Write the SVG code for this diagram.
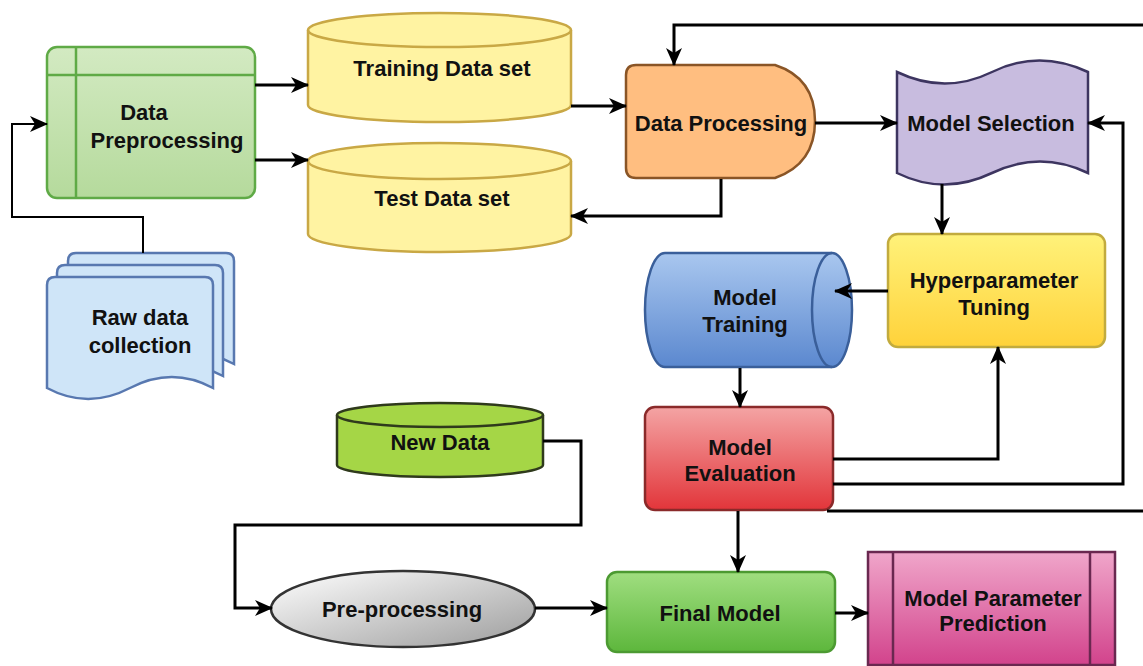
<svg xmlns="http://www.w3.org/2000/svg" width="1143" height="666" viewBox="0 0 1143 666">
<style>
.t{font-family:"Liberation Sans",Arial,sans-serif;font-weight:bold;font-size:22px;fill:#111;text-anchor:middle}
.c{fill:none;stroke:#000;stroke-width:3;stroke-linejoin:miter}
.thin{fill:none;stroke:#000;stroke-width:2}
</style>
<defs>
<marker id="ah" markerUnits="userSpaceOnUse" markerWidth="18" markerHeight="16" refX="17" refY="8" orient="auto">
<path d="M0,0 L18,8 L0,16 L5,8 Z" fill="#000"/>
</marker>
<linearGradient id="gDP" x1="0" y1="0" x2="0" y2="1"><stop offset="0" stop-color="#d3eac2"/><stop offset="1" stop-color="#b5da9c"/></linearGradient>
<linearGradient id="gHT" x1="0" y1="0" x2="0" y2="1"><stop offset="0" stop-color="#fff27a"/><stop offset="1" stop-color="#ffd23a"/></linearGradient>
<linearGradient id="gMT" x1="0" y1="0" x2="0" y2="1"><stop offset="0" stop-color="#a9c7ef"/><stop offset="1" stop-color="#5b88cf"/></linearGradient>
<linearGradient id="gME" x1="0" y1="0" x2="0" y2="1"><stop offset="0" stop-color="#f4a4a4"/><stop offset="1" stop-color="#e2353a"/></linearGradient>
<linearGradient id="gFM" x1="0" y1="0" x2="0" y2="1"><stop offset="0" stop-color="#a0de80"/><stop offset="1" stop-color="#5db73c"/></linearGradient>
<linearGradient id="gMPP" x1="0" y1="0" x2="0" y2="1"><stop offset="0" stop-color="#f0a6ca"/><stop offset="1" stop-color="#d2438c"/></linearGradient>
<linearGradient id="gPP" x1="0" y1="0" x2="1" y2="1"><stop offset="0" stop-color="#ffffff"/><stop offset="1" stop-color="#9c9c9c"/></linearGradient>
</defs>

<g id="data-preprocessing">
<rect x="47" y="47" width="208" height="151" rx="10" fill="url(#gDP)" stroke="#5faa46" stroke-width="2.5"/>
<line x1="76" y1="47" x2="76" y2="198" stroke="#5faa46" stroke-width="2.5"/>
<line x1="47" y1="75" x2="255" y2="75" stroke="#5faa46" stroke-width="2.5"/>
<text class="t" x="144" y="120">Data</text>
<text class="t" x="167" y="148">Preprocessing</text>
</g>

<g id="raw-data-collection" fill="#cfe5f8" stroke="#5878b0" stroke-width="2.5">
<path d="M68,261 Q68,253 76,253 L226,253 Q234,253 234,261 L234,364 Q193,342 151,364 Q109,386 68,364 Z"/>
<path d="M57,273 Q57,265 65,265 L215,265 Q223,265 223,273 L223,376 Q182,354 140,376 Q98,398 57,376 Z"/>
<path d="M47,285 Q47,277 55,277 L205,277 Q213,277 213,285 L213,388 Q172,366 130,388 Q88,410 47,388 Z"/>
<text class="t" stroke="none" x="140" y="325">Raw data</text>
<text class="t" stroke="none" x="140" y="353">collection</text>
</g>

<g id="training-data-set" fill="#fff3a2" stroke="#c9a845" stroke-width="2.5">
<path d="M308,30 A131.5,17 0 0 1 571,30 L571,105 A131.5,17 0 0 1 308,105 Z"/>
<path d="M308,30 A131.5,17 0 0 0 571,30" fill="none"/>
<text class="t" stroke="none" x="442" y="76">Training Data set</text>
</g>

<g id="test-data-set" fill="#fff3a2" stroke="#c9a845" stroke-width="2.5">
<path d="M308,161 A131.5,18 0 0 1 571,161 L571,234 A131.5,18 0 0 1 308,234 Z"/>
<path d="M308,161 A131.5,18 0 0 0 571,161" fill="none"/>
<text class="t" stroke="none" x="442" y="206">Test Data set</text>
</g>

<g id="data-processing">
<path d="M636,65 L775,65 Q815,78 815,121 Q815,164 775,178 L636,178 Q626,178 626,168 L626,75 Q626,65 636,65 Z" fill="#ffbe80" stroke="#8a5526" stroke-width="2.5"/>
<text class="t" x="721" y="131">Data Processing</text>
</g>

<g id="model-selection">
<path d="M897,72 Q945,95 992,72 T1088,72 L1088,173 Q1040,150 992,173 T897,173 Z" fill="#c8bcdf" stroke="#3d3560" stroke-width="2.5"/>
<text class="t" x="991" y="131">Model Selection</text>
</g>

<g id="hyperparameter-tuning">
<rect x="888" y="234" width="217" height="113" rx="10" fill="url(#gHT)" stroke="#c2ab3e" stroke-width="2.5"/>
<text class="t" x="994" y="288">Hyperparameter</text>
<text class="t" x="994" y="315">Tuning</text>
</g>

<g id="model-training">
<path d="M665,253 L832,253 A20,57 0 0 1 832,367 L665,367 A20,57 0 0 1 665,253 Z" fill="url(#gMT)" stroke="#3a5f9a" stroke-width="2.5"/>
<path d="M832,253 A20,57 0 0 0 832,367" fill="none" stroke="#3a5f9a" stroke-width="2.5"/>
<text class="t" x="745" y="305">Model</text>
<text class="t" x="745" y="332">Training</text>
</g>

<g id="model-evaluation">
<rect x="645" y="407" width="188" height="103" rx="10" fill="url(#gME)" stroke="#8a2a2a" stroke-width="2.5"/>
<text class="t" x="740" y="455">Model</text>
<text class="t" x="740" y="481">Evaluation</text>
</g>

<g id="new-data" fill="#a5d646" stroke="#2f3a1c" stroke-width="2.5">
<path d="M337,415 A103,12 0 0 1 543,415 L543,465 A103,12 0 0 1 337,465 Z"/>
<path d="M337,415 A103,12 0 0 0 543,415" fill="none"/>
<text class="t" stroke="none" x="440" y="450">New Data</text>
</g>

<g id="pre-processing">
<ellipse cx="403" cy="609" rx="132" ry="38" fill="url(#gPP)" stroke="#333" stroke-width="2.5"/>
<text class="t" x="402" y="617">Pre-processing</text>
</g>

<g id="final-model">
<rect x="607" y="572" width="228" height="80" rx="10" fill="url(#gFM)" stroke="#4c9a32" stroke-width="2.5"/>
<text class="t" x="720" y="621">Final Model</text>
</g>

<g id="model-parameter-prediction">
<rect x="868" y="552" width="247" height="113" fill="url(#gMPP)" stroke="#6a2850" stroke-width="2.5"/>
<line x1="893" y1="552" x2="893" y2="665" stroke="#6a2850" stroke-width="2.5"/>
<line x1="1090" y1="552" x2="1090" y2="665" stroke="#6a2850" stroke-width="2.5"/>
<text class="t" x="993" y="606">Model Parameter</text>
<text class="t" x="993" y="631">Prediction</text>
</g>

<g id="connectors">
<path class="thin" d="M143,253 L143,217 L12,217 L12,124 L47,124" marker-end="url(#ah)"/>
<path class="c" d="M255,85 L308,85" marker-end="url(#ah)"/>
<path class="c" d="M255,160 L308,160" marker-end="url(#ah)"/>
<path class="c" d="M571,106 L626,106" marker-end="url(#ah)"/>
<path class="c" d="M721,179 L721,216 L571,216" marker-end="url(#ah)"/>
<path class="c" d="M1150,25 L674,25 L674,65" marker-end="url(#ah)"/>
<path class="c" d="M815,123 L897,123" marker-end="url(#ah)"/>
<path class="c" d="M833,484 L1123,484 L1123,123 L1088,123" marker-end="url(#ah)"/>
<path class="c" d="M942,184 L942,234" marker-end="url(#ah)"/>
<path class="c" d="M888,291 L835,291" marker-end="url(#ah)"/>
<path class="c" d="M740,368 L740,407" marker-end="url(#ah)"/>
<path class="c" d="M833,459 L998,459 L998,347" marker-end="url(#ah)"/>
<path class="c" d="M827,511 L1150,511"/>
<path class="c" d="M738,511 L738,572" marker-end="url(#ah)"/>
<path class="c" d="M835,613 L868,613" marker-end="url(#ah)"/>
<path class="c" d="M543,441 L581,441 L581,525 L235,525 L235,608 L272,608" marker-end="url(#ah)"/>
<path class="c" d="M535,608 L607,608" marker-end="url(#ah)"/>
</g>
</svg>
